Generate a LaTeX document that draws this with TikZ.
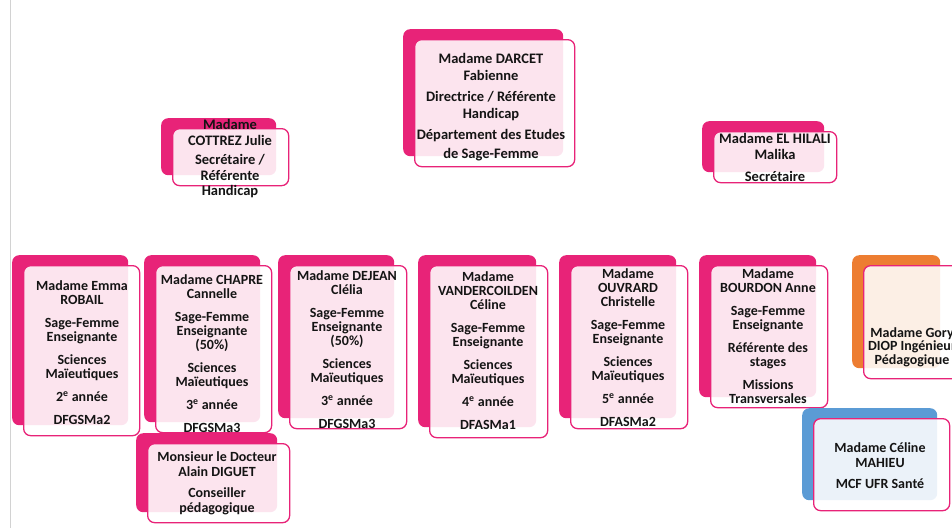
\documentclass[tikz,border=0pt]{standalone}
\usepackage{fontspec}
\setmainfont{Carlito}
\usetikzlibrary{calc}
\definecolor{mag}{RGB}{232,35,120}
\definecolor{org}{RGB}{237,125,49}
\definecolor{blu}{RGB}{91,155,213}
\definecolor{ink}{RGB}{20,20,20}
\pgfdeclarelayer{bg}
\pgfsetlayers{bg,main}
\tikzset{
  backbox/.style={rectangle, rounded corners=7pt, inner sep=0pt, draw=none},
  frontbox/.style={rectangle, rounded corners=7pt, inner sep=0pt, draw=mag, line width=1.3pt, fill=white, fill opacity=0.88},
  txt/.style={align=center, font=\bfseries\fontsize{14}{14}\selectfont, text=ink, inner sep=0pt},
  txtbig/.style={txt, font=\bfseries\fontsize{14.5}{16.5}\selectfont},
  txtmid/.style={txt, font=\bfseries\fontsize{14.5}{15.5}\selectfont},
  txtsub/.style={txt, font=\bfseries\fontsize{14}{15}\selectfont},
  txttight/.style={txt, font=\bfseries\fontsize{14}{13.5}\selectfont},
  conn/.style={draw=mag, line width=1.5pt},
}
\newcommand\pg{\\[9pt]}
% name, x, y, back width, height, front width, back colour
\newcommand\obox[7]{%
  \node[backbox, fill=#7, minimum width=#4pt, minimum height=#5pt, anchor=north west] (#1) at (#2,#3) {};
  \node[frontbox, minimum width=#6pt, minimum height=#5pt, anchor=north west] (#1f) at (#2+11,#3+10) {};
}
\begin{document}
\begin{tikzpicture}[x=1pt,y=-1pt]
\useasboundingbox (0,0) rectangle (952,528);
\fill[white] (0,0) rectangle (952,528);
\clip (0,0) rectangle (952,528);
\draw[gray!35, line width=0.6pt] (10,0) -- (10,528);
\coordinate (bus) at (0,243);

% top
\obox{top}{403}{29}{160}{127}{160}{mag}
\node[txtbig] (topt) at (491,107) {Madame DARCET\\Fabienne\\[5pt]Directrice / Référente\\Handicap\\[5pt]Département des Etudes\\[2pt]de Sage-Femme};
% assistants
\obox{as1}{161}{118}{115}{57}{116}{mag}
\node[txtmid] (as1t) at (230,159) {Madame\\COTTREZ Julie\\[4pt]Secrétaire /\\Référente\\Handicap};
\obox{as2}{702}{121}{122}{51}{123}{mag}
\node[txtmid] (as2t) at (775,157.5) {Madame EL HILALI\\Malika\\[7pt]Secrétaire};

% row
\obox{b1}{12}{255}{116}{170}{116}{mag}
\node[txt] (b1t) at (82,353) {Madame Emma\\ROBAIL\pg Sage-Femme\\Enseignante\pg Sciences\\Maïeutiques\pg 2\textsuperscript{e} année\pg DFGSMa2};
\obox{b2}{144}{255}{116}{167}{116}{mag}
\node[txt] (b2t) at (212,353.5) {Madame CHAPRE\\Cannelle\pg Sage-Femme\\Enseignante\\(50\%)\pg Sciences\\Maïeutiques\pg 3\textsuperscript{e} année\pg DFGSMa3};
\obox{b3}{278}{255}{116}{163}{117}{mag}
\node[txt] (b3t) at (347,350) {Madame DEJEAN\\Clélia\pg Sage-Femme\\Enseignante\\(50\%)\pg Sciences\\Maïeutiques\pg 3\textsuperscript{e} année\pg DFGSMa3};
\obox{b4}{418}{255}{118}{172}{118}{mag}
\node[txt] (b4t) at (488,351) {Madame\\VANDERCOILDEN\\Céline\pg Sage-Femme\\Enseignante\pg Sciences\\Maïeutiques\pg 4\textsuperscript{e} année\pg DFASMa1};
\obox{b5}{559}{255}{117}{163}{117}{mag}
\node[txt] (b5t) at (628,347.5) {Madame\\OUVRARD\\Christelle\pg Sage-Femme\\Enseignante\pg Sciences\\Maïeutiques\pg 5\textsuperscript{e} année\pg DFASMa2};
\obox{b6}{699}{255}{117}{142}{117}{mag}
\node[txt] (b6t) at (768,336) {Madame\\BOURDON Anne\pg Sage-Femme\\Enseignante\pg Référente des\\stages\pg Missions\\Transversales};
\obox{b7}{852}{255}{88}{113}{118}{org}
\node[txttight] (b7t) at (912,347) {Madame Gory\\DIOP Ingénieur\\Pédagogique};
% sub boxes
\obox{d1}{136}{433}{141}{79}{142}{mag}
\node[txtsub] (d1t) at (217,483.5) {Monsieur le Docteur\\Alain DIGUET\\[6pt]Conseiller\\pédagogique};
\obox{d2}{802}{408}{135}{92}{136}{blu}
\node[txtsub] (d2t) at (880,465.5) {Madame Céline\\MAHIEU\\[6pt]MCF UFR Santé};

\begin{pgfonlayer}{bg}
  \draw[conn, draw=org] (top.south) |- (b7.north |- bus) -- (b7.north);
  \foreach \b in {b1,b2,b3,b4,b5,b6}
    \draw[conn] (top.south) |- (\b.north |- bus) -- (\b.north);
\end{pgfonlayer}
\end{tikzpicture}
\end{document}
